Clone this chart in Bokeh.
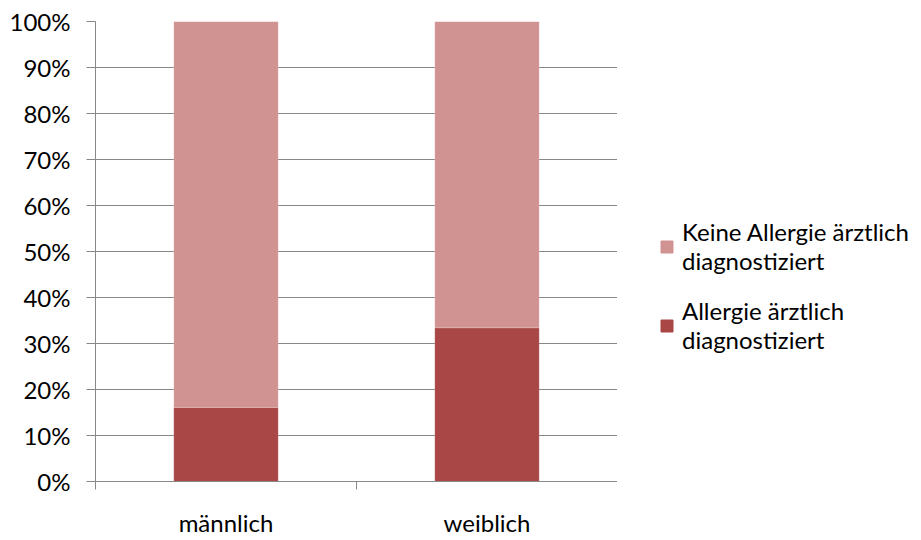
from bokeh.plotting import figure
from bokeh.layouts import row
from bokeh.models import (Range1d, FixedTicker, NumeralTickFormatter,
                          Legend, LegendItem, ColumnDataSource)
from bokeh.embed import file_html
from bokeh.resources import INLINE

categories = ["männlich", "weiblich"]
allergie = [0.161, 0.334]
keine_allergie = [1 - v for v in allergie]
series_names = ["allergie", "keine"]
series_labels = ["Allergie ärztlich\ndiagnostiziert", "Keine Allergie ärztlich\ndiagnostiziert"]
colors = ["#A84745", "#D19392"]
y_ticks = [i / 10 for i in range(11)]

FONT = "Lato"
GRID = "#888888"

xpos = [i + 0.5 for i in range(len(categories))]
src = ColumnDataSource(dict(x=xpos, cat=categories, allergie=allergie, keine=keine_allergie))

p = figure(width=617, height=540, x_range=Range1d(0, len(categories)), y_range=Range1d(0, 1),
           output_backend="svg", toolbar_location=None,
           min_border_left=95, min_border_right=0, min_border_top=21, min_border_bottom=59)
p.outline_line_color = None

rs = p.vbar_stack(series_names, x="x", width=0.4, source=src, color=colors,
                  line_color="white", line_alpha=0.3, line_width=0.5)

# y axis
ya = p.yaxis[0]
ya.ticker = FixedTicker(ticks=y_ticks)
ya.formatter = NumeralTickFormatter(format="0%")
ya.axis_line_color = GRID
ya.major_tick_line_color = GRID
ya.major_tick_out = 9
ya.major_tick_in = 0
ya.minor_tick_line_color = None
ya.major_label_text_font = FONT
ya.major_label_text_font_size = "24px"
ya.major_label_text_color = "#000000"
ya.major_label_standoff = 16

p.xgrid.grid_line_color = None
p.ygrid.ticker = FixedTicker(ticks=y_ticks)
p.ygrid.grid_line_color = GRID
p.ygrid.grid_line_width = 1

# x axis: category labels at centres, ticks at boundaries
xa = p.xaxis[0]
xa.ticker = FixedTicker(ticks=xpos, minor_ticks=list(range(len(categories) + 1)))
xa.major_label_overrides = {x: c for x, c in zip(xpos, categories)}
xa.axis_line_color = GRID
xa.major_tick_line_color = None
xa.major_tick_out = 0
xa.major_tick_in = 0
xa.minor_tick_line_color = GRID
xa.minor_tick_out = 8
xa.minor_tick_in = 0
xa.major_label_text_font = FONT
xa.major_label_text_font_size = "24px"
xa.major_label_text_color = "#000000"
xa.major_label_standoff = 18

# legend panel: a second figure holding hidden copies of the series
p2 = figure(width=304, height=540, x_range=Range1d(0, 1), y_range=Range1d(0, 1),
            output_backend="svg", toolbar_location=None,
            min_border_left=0, min_border_right=0, min_border_top=0, min_border_bottom=0)
p2.axis.visible = False
p2.grid.visible = False
p2.outline_line_color = None
rs2 = p2.vbar_stack(series_names, x="x", width=0.4, source=src, color=colors)
for r in rs2:
    r.visible = False

items = [LegendItem(label=series_labels[1], renderers=[rs2[1]]),
         LegendItem(label=series_labels[0], renderers=[rs2[0]])]
legend = Legend(items=items, location=(42, 127), orientation="vertical",
                glyph_width=15, glyph_height=15, label_standoff=8, spacing=21,
                padding=0, margin=0, border_line_color=None, background_fill_alpha=0,
                label_text_font=FONT, label_text_font_size="24px", label_text_color="#000000",
                label_text_line_height=1.5)
p2.add_layout(legend, "center")

layout = row(p, p2)
open("out.html", "w").write(file_html(layout, INLINE))
